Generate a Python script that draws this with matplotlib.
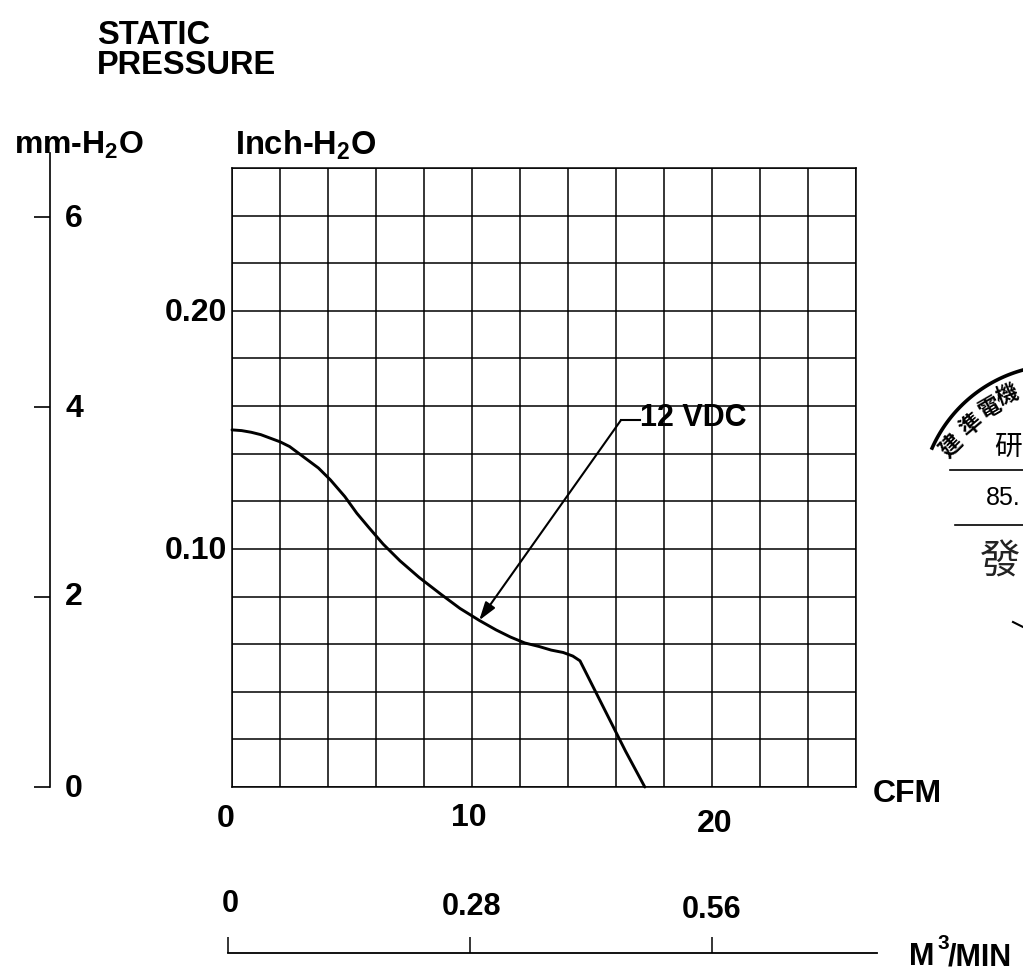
import numpy as np
import matplotlib
matplotlib.use("Agg")
import matplotlib.pyplot as plt

plt.rcParams['font.family'] = ['Liberation Sans', 'Noto Sans CJK TC', 'DejaVu Sans']
plt.rcParams['mathtext.fontset'] = 'custom'
plt.rcParams['mathtext.bf'] = 'Liberation Sans:bold'
plt.rcParams['mathtext.rm'] = 'Liberation Sans:bold'

W, H = 1023, 971

#curve
cfm = [0.0, 0.4, 0.8, 1.2, 1.6, 2.0, 2.4, 2.8, 3.2, 3.6, 4.1, 4.7, 5.2, 5.7, 6.3, 7.0, 7.8, 8.7, 9.5, 10.3,
       11.0, 11.6, 12.2, 12.8, 13.3, 13.8, 14.2, 14.5, 14.8, 15.2, 15.7, 16.4, 17.2]
inch = [0.150, 0.1497, 0.149, 0.148, 0.1465, 0.145, 0.143, 0.140, 0.137, 0.134, 0.129, 0.122, 0.115, 0.109, 0.102, 0.095,
        0.088, 0.081, 0.075, 0.070, 0.066, 0.063, 0.0605, 0.059, 0.0575, 0.0565, 0.055, 0.053, 0.047, 0.039, 0.029, 0.015, 0.0]

cfm_ticks = [0, 10, 20]
inch_ticks = [0.10, 0.20]
mm_ticks = [0, 2, 4, 6]
m3_ticks = [0, 0.28, 0.56]
m3_labels = ['0', '0.28', '0.56']

fig = plt.figure(figsize=(W / 100, H / 100), dpi=100)

def box(x0, ytop, x1, ybot):
    return [x0 / W, 1 - ybot / H, (x1 - x0) / W, (ybot - ytop) / H]

#main grid
ax = fig.add_axes(box(232, 168, 856, 787))
ax.set_xlim(0, 26)
ax.set_ylim(0, 0.26)
ax.set_xticks(np.arange(0, 27, 2))
ax.set_yticks(np.arange(0, 0.27, 0.02))
ax.grid(True, color='black', lw=1.1)
ax.tick_params(length=0, labelbottom=False, labelleft=False)
for s in ax.spines.values():
    s.set_linewidth(1.1)
ax.plot(cfm, inch, color='black', lw=2.1, solid_capstyle='round', clip_on=False)
ax.annotate('', xy=(10.3, 0.070), xytext=(16.2, 0.154),
            arrowprops=dict(arrowstyle='-|>,head_length=1.1,head_width=0.35', color='black', lw=1.5, shrinkA=0, shrinkB=0))
ax.plot([16.2, 17.0], [0.154, 0.154], color='black', lw=1.5)

#left mm axis
axl = fig.add_axes(box(50, 153, 51, 787))
axl.set_xlim(0, 1)
axl.set_ylim(0, (787 - 153) / 95.0)
for n in ['top', 'bottom', 'right']:
    axl.spines[n].set_visible(False)
axl.spines['left'].set_linewidth(1.2)
axl.set_xticks([])
axl.set_yticks(mm_ticks)
axl.tick_params(axis='y', length=11.5, width=1.2, labelleft=False)

#bottom m3/min axis
axb = fig.add_axes(box(228, 937, 877, 953))
axb.set_xlim(0, 0.56 * (877 - 228) / (712 - 228))
axb.set_ylim(0, 1)
for n in ['top', 'left', 'right']:
    axb.spines[n].set_visible(False)
axb.spines['bottom'].set_linewidth(1.3)
axb.patch.set_alpha(0)
axb.set_yticks([])
axb.set_xticks(m3_ticks)
axb.tick_params(axis='x', direction='in', length=11.5, width=1.1, labelbottom=False)

def label(x, y, s, size=23, ha='left', va='center', **kw):
    fig.text(x / W, 1 - (y + 2) / H, s, fontsize=size, fontweight='bold', ha=ha, va=va, **kw)

label(97, 33, 'STATIC', size=23.5)
label(97, 63, 'PRESSURE', size=23.5)
label(14, 143, r'mm-H$_{\mathbf{2}}$O', size=23)
label(235, 143, r'Inch-H$_{\mathbf{2}}$O', size=23.5)
for t, y in zip(mm_ticks, [787, 595, 407, 217]):
    label(74, y, str(t), ha='center')
for t, y in zip(inch_ticks, [549, 311]):
    label(227, y, '%.2f' % t, ha='right')
for t, x, y in zip(cfm_ticks, [226, 469, 715], [817, 816, 822]):
    label(x, y, str(t), ha='center')
label(873, 792, 'CFM')
for t, x, y in zip(m3_labels, [230, 472, 712], [902, 905, 908]):
    label(x, y, t, ha='center', size=22)
label(909, 955, 'M', size=22)
label(938, 941, '3', size=15)
label(948, 955, '/MIN', size=22)
label(640, 416, '12 VDC', size=22)

#stamp in the right margin
ov = fig.add_axes([0, 0, 1, 1])
ov.set_xlim(0, W)
ov.set_ylim(H, 0)
ov.axis('off')
ov.patch.set_alpha(0)
ang = np.radians(np.linspace(204, 285, 60))
ov.plot(1060 + 140 * np.cos(ang), 505 + 140 * np.sin(ang), color='black', lw=2.6)
ov.plot([950, 1023], [470, 470], color='black', lw=1.2)
ov.plot([955, 1023], [525, 525], color='black', lw=1.2)
ov.plot([1013, 1023], [622, 627], color='black', lw=1.5)
for s, x, y, r in zip('建準電機', [952, 972, 991, 1007], [446, 426, 409, 396], [45, 40, 30, 20]):
    ov.text(x, y, s, fontsize=16, rotation=r, ha='center', va='center', fontweight='bold')
ov.text(994, 449, '研', fontsize=20, va='center', ha='left')
ov.text(986, 498, '85.', fontsize=18, va='center', ha='left')
ov.text(980, 563, '發', fontsize=29, va='center', ha='left', color='#222222')

fig.savefig('out.png', dpi=100)
